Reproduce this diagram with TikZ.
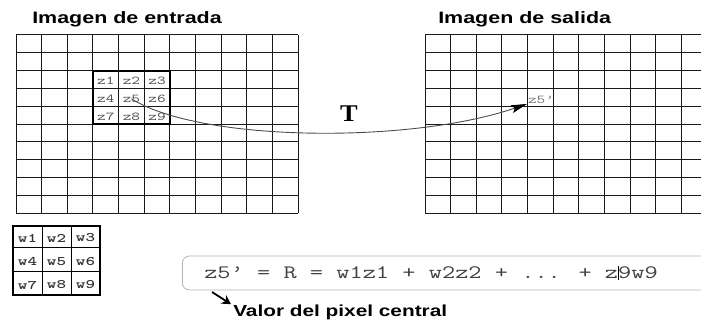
\documentclass[tikz,border=0pt]{standalone}
\usepackage{fontspec}
\setmainfont{Liberation Serif}
\setsansfont{Liberation Sans}
\usetikzlibrary{arrows.meta}

\begin{document}
\begin{tikzpicture}[x=1pt, y=-1pt,
    title/.style={font=\sffamily\bfseries\fontsize{16.5}{18}\selectfont, xscale=1.3, inner sep=0pt, anchor=base west},
    zcell/.style={font=\ttfamily\fontsize{12}{13}\selectfont, text=black!70, xscale=1.4, inner sep=0.5pt},
    wcell/.style={font=\ttfamily\bfseries\fontsize{13}{14}\selectfont, text=black!80, xscale=1.4, inner sep=0.5pt},
    gridline/.style={black!90, line width=1pt}]
  \useasboundingbox (0,0) rectangle (701,321);
  \clip (0,0) rectangle (701,321);

  % input and output images
  \foreach \gx in {16,425} {
    \foreach \i in {0,...,11}
      \draw[gridline] ({\gx+\i*25.65},35) -- ({\gx+\i*25.65},213);
    \foreach \j in {0,...,10}
      \draw[gridline] (\gx,{35+\j*17.8}) -- ({\gx+282.2},{35+\j*17.8});
  }
  \node[title] (inTitle) at (32,24) {Imagen de entrada};
  \node[title] (outTitle) at (438,24) {Imagen de salida};

  % 3x3 neighbourhood
  \draw[line width=1.8pt] (92.95,70.6) rectangle (169.9,124);
  \foreach \k in {1,...,9} {
    \pgfmathtruncatemacro\zcol{mod(\k-1,3)}
    \pgfmathtruncatemacro\zrow{div(\k-1,3)}
    \node[zcell] (z\k) at ({16+25.65*(3.5+\zcol)}, {35+17.8*(2.5+\zrow)+1.5}) {z\k};
  }
  \node[zcell, text=black!55] (z5p) at (541,99.5) {z5’};

  % transformation
  \draw[black!70, line width=0.9pt, -{Stealth[length=16pt,width=8pt,inset=3pt,black]}]
    (z5.center) .. controls (200,142) and (410,144) .. (z5p.south west);
  \node[font=\rmfamily\bfseries\fontsize{24}{26}\selectfont, xscale=1.1, inner sep=0pt] (T) at (349,113.5) {T};

  % mask
  \draw[line width=1pt] (42,226) -- (42,295) (71,226) -- (71,295)
    (13,247.5) -- (100,247.5) (13,271.5) -- (100,271.5);
  \draw[line width=2.2pt] (13,226) rectangle (100,295);
  \foreach \k in {1,...,9} {
    \pgfmathtruncatemacro\wcol{mod(\k-1,3)}
    \pgfmathtruncatemacro\wrow{div(\k-1,3)}
    \node[wcell] (w\k) at ({27.5+29*\wcol}, {238+23.5*\wrow}) {w\k};
  }

  % formula
  \node[draw=black!30, line width=0.8pt, rounded corners=7pt, minimum width=540pt,
    minimum height=34pt, anchor=west, inner sep=0pt] (fbox) at (182,273) {};
  \node[font=\ttfamily\fontsize{19}{20}\selectfont, text=black!75, xscale=1.35,
    anchor=west, inner sep=0pt] (formula) at (204,273)
    {z5’ = R = w1z1 + w2z2 + ... + z\makebox[0pt]{\color{black}\rule[-2pt]{0.8pt}{14pt}}9w9};
  \node[font=\sffamily\bfseries\fontsize{16}{18}\selectfont, xscale=1.3, inner sep=0pt,
    anchor=base west] (valor) at (233,316) {Valor del pixel central};
  \coordinate (vtail) at (212,292);
  \draw[line width=1.8pt, -{Stealth[length=9pt,width=10pt]}] (vtail) -- ([xshift=-2pt]valor.north west);
\end{tikzpicture}
\end{document}
